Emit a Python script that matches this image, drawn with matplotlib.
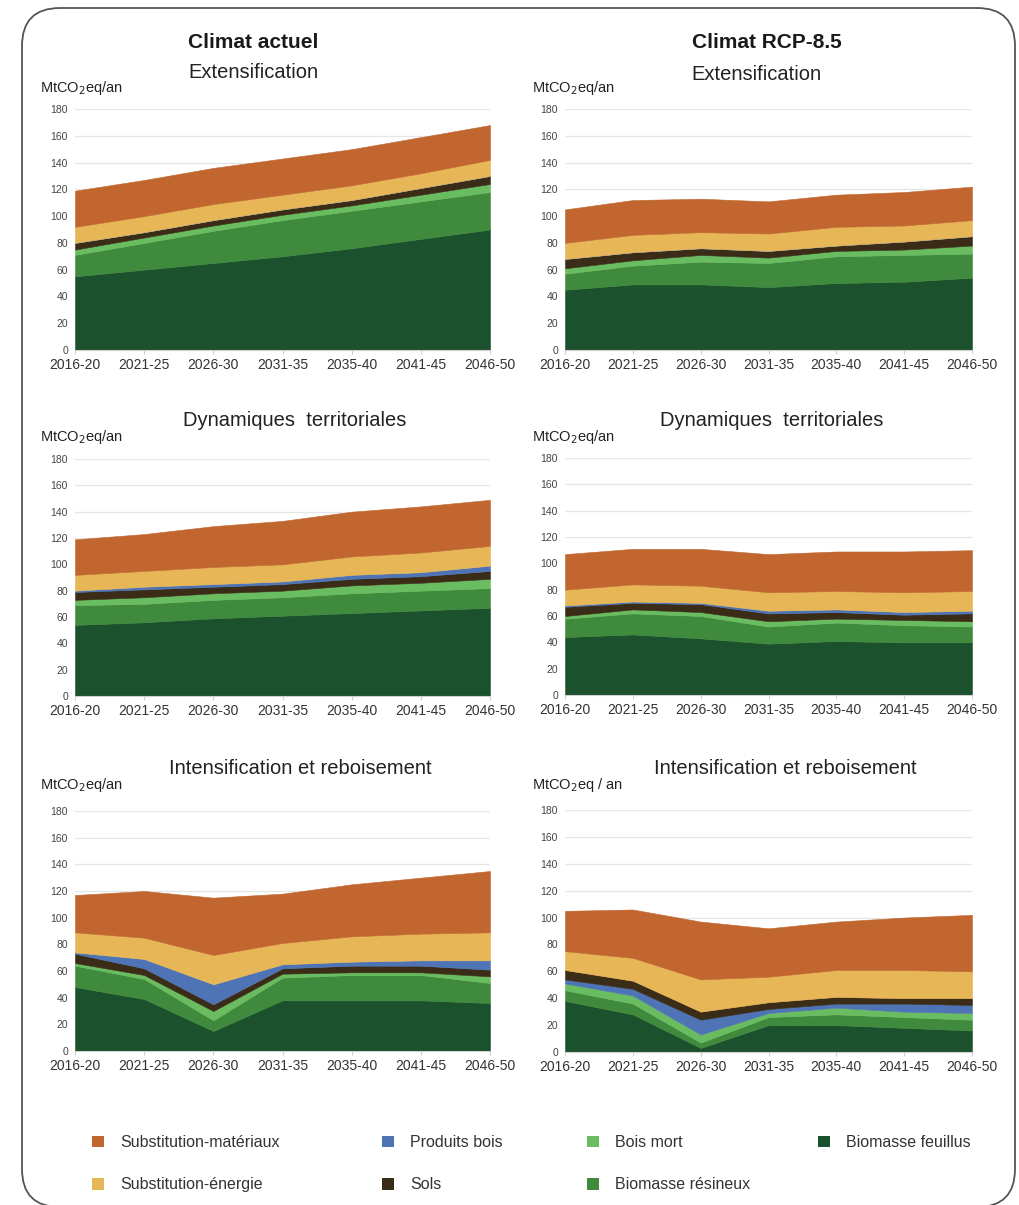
import matplotlib
matplotlib.use("Agg")
import matplotlib.pyplot as plt
from matplotlib.patches import FancyBboxPatch, Patch

plt.rcParams['font.family'] = ['Liberation Sans', 'DejaVu Sans']

# Periods on the x axis
periods = ["2016-20", "2021-25", "2026-30", "2031-35", "2035-40", "2041-45", "2046-50"]

# Carbon balance components, MtCO2eq/an, per scenario
actuel_extensification = {
    "Biomasse feuillus":       [55, 60, 65, 70, 76, 83, 90],
    "Biomasse résineux":       [16, 20, 24, 27, 28, 28, 28],
    "Bois mort":               [4, 4, 4, 4, 4, 5, 6],
    "Sols":                    [5, 4, 4, 4, 4, 5, 6],
    "Produits bois":           [0, 0, 0, 0, 0, 0, 0],
    "Substitution-énergie":    [12, 12, 12, 11, 11, 11, 12],
    "Substitution-matériaux":  [27, 27, 27, 27, 27, 27, 26],
}
rcp_extensification = {
    "Biomasse feuillus":       [45, 49, 49, 47, 50, 51, 54],
    "Biomasse résineux":       [12, 14, 17, 18, 20, 20, 18],
    "Bois mort":               [4, 4, 5, 4, 4, 4, 6],
    "Sols":                    [7, 6, 5, 5, 4, 6, 7],
    "Produits bois":           [0, 0, 0, 0, 0, 0, 0],
    "Substitution-énergie":    [12, 13, 12, 13, 14, 12, 12],
    "Substitution-matériaux":  [25, 26, 25, 24, 24, 25, 25],
}
actuel_dynamiques = {
    "Biomasse feuillus":       [54, 56, 59, 61, 63, 65, 67],
    "Biomasse résineux":       [15, 14, 14, 14, 15, 15, 15],
    "Bois mort":               [4, 5, 5, 5, 6, 6, 7],
    "Sols":                    [6, 6, 5, 5, 5, 5, 6],
    "Produits bois":           [1, 2, 2, 2, 3, 3, 4],
    "Substitution-énergie":    [12, 12, 13, 13, 14, 15, 15],
    "Substitution-matériaux":  [27, 28, 31, 33, 34, 35, 35],
}
rcp_dynamiques = {
    "Biomasse feuillus":       [44, 46, 43, 39, 41, 40, 40],
    "Biomasse résineux":       [14, 16, 17, 13, 14, 13, 12],
    "Bois mort":               [2, 3, 3, 4, 3, 4, 4],
    "Sols":                    [7, 5, 6, 6, 5, 4, 6],
    "Produits bois":           [1, 1, 1, 2, 2, 2, 2],
    "Substitution-énergie":    [12, 13, 13, 14, 14, 15, 15],
    "Substitution-matériaux":  [27, 27, 28, 29, 30, 31, 31],
}
actuel_intensification = {
    "Biomasse feuillus":       [48, 39, 15, 38, 38, 38, 36],
    "Biomasse résineux":       [16, 15, 8, 17, 19, 19, 15],
    "Bois mort":               [2, 3, 7, 3, 2, 2, 5],
    "Sols":                    [7, 5, 5, 4, 5, 5, 5],
    "Produits bois":           [1, 7, 15, 3, 3, 4, 7],
    "Substitution-énergie":    [15, 16, 22, 16, 19, 20, 21],
    "Substitution-matériaux":  [28, 35, 43, 37, 39, 42, 46],
}
rcp_intensification = {
    "Biomasse feuillus":       [38, 28, 3, 20, 20, 18, 16],
    "Biomasse résineux":       [8, 8, 4, 6, 8, 8, 8],
    "Bois mort":               [5, 6, 6, 3, 5, 4, 5],
    "Produits bois":           [3, 5, 11, 3, 3, 6, 6],
    "Sols":                    [7, 6, 6, 5, 5, 4, 5],
    "Substitution-énergie":    [14, 17, 24, 19, 20, 21, 20],
    "Substitution-matériaux":  [30, 36, 43, 36, 36, 39, 42],
}

colors = {
    "Substitution-matériaux": "#C1662F",
    "Substitution-énergie":   "#E7B657",
    "Produits bois":          "#4E74B6",
    "Sols":                   "#3A2C16",
    "Bois mort":              "#69BC5F",
    "Biomasse résineux":      "#3F8A3D",
    "Biomasse feuillus":      "#1C512D",
}

W, H = 1020, 1205
fig = plt.figure(figsize=(W / 100, H / 100), dpi=100)


def fx(px):
    return px / W


def fy(py):
    return 1 - py / H


# Rounded frame around the whole figure
frame = FancyBboxPatch((0.22, -0.02), 9.93, 11.99, boxstyle="round,pad=0,rounding_size=0.38",
                       transform=fig.dpi_scale_trans, fill=False, edgecolor="#555555",
                       linewidth=1.3, clip_on=False)
fig.add_artist(frame)

# Panel geometry in pixels: (left, right, y of 0, y of 180)
panels = [
    (actuel_extensification, 75, 490, 350, 109, "Extensification", 253, 72, "MtCO$_2$eq/an", 88),
    (rcp_extensification, 565, 972, 350, 109, "Extensification", 756, 74, "MtCO$_2$eq/an", 88),
    (actuel_dynamiques, 75, 490, 696, 459, "Dynamiques  territoriales", 295, 420, "MtCO$_2$eq/an", 437),
    (rcp_dynamiques, 565, 972, 695, 458, "Dynamiques  territoriales", 772, 420, "MtCO$_2$eq/an", 437),
    (actuel_intensification, 75, 490, 1051, 811, "Intensification et reboisement", 300, 769, "MtCO$_2$eq/an", 785),
    (rcp_intensification, 565, 972, 1052, 810, "Intensification et reboisement", 785, 768, "MtCO$_2$eq / an", 785),
]

x = list(range(len(periods)))
for data, left, right, y0, y180, subtitle, sx, sy, unit, uy in panels:
    ax = fig.add_axes([fx(left), fy(y0), fx(right - left), (y0 - y180) / H])
    names = list(data.keys())
    ax.stackplot(x, [data[n] for n in names], colors=[colors[n] for n in names],
                 edgecolor="face", linewidth=0.4, zorder=2)
    ax.set_xlim(0, len(periods) - 1)
    ax.set_ylim(0, 180)
    ax.set_yticks(range(0, 181, 20))
    ax.set_xticks(x)
    ax.set_xticklabels(periods)
    ax.grid(axis="y", color="#e6e6e6", linewidth=0.9, zorder=0)
    ax.set_axisbelow(True)
    for s in ("top", "right", "left"):
        ax.spines[s].set_visible(False)
    ax.spines["bottom"].set_color("#cfcfcf")
    ax.tick_params(axis="y", length=0, pad=5, labelsize=7.5, labelcolor="#444444")
    ax.tick_params(axis="x", length=3, color="#cfcfcf", pad=3, labelsize=10, labelcolor="#333333")
    unit_x = 40 if left < 300 else 532
    fig.text(fx(unit_x), fy(uy), unit, ha="left", va="center", fontsize=10.5, color="#222222")
    fig.text(fx(sx), fy(sy), subtitle, ha="center", va="center", fontsize=14.5, color="#222222")

fig.text(fx(253), fy(42), "Climat actuel", ha="center", va="center", fontsize=15,
         fontweight="bold", color="#1a1a1a")
fig.text(fx(767), fy(42), "Climat RCP-8.5", ha="center", va="center", fontsize=15,
         fontweight="bold", color="#1a1a1a")

# Legend, laid out in four columns
legend_cols = [
    (92, ["Substitution-matériaux", "Substitution-énergie"]),
    (382, ["Produits bois", "Sols"]),
    (587, ["Bois mort", "Biomasse résineux"]),
    (818, ["Biomasse feuillus"]),
]
for lx, names in legend_cols:
    handles = [Patch(facecolor=colors[n], edgecolor="none") for n in names]
    leg = fig.legend(handles, names, loc="upper left", bbox_to_anchor=(fx(lx), fy(1135)),
                     bbox_transform=fig.transFigure, frameon=False, fontsize=11.5,
                     handlelength=0.75, handleheight=0.75, handletextpad=1.0,
                     labelspacing=1.72, borderpad=0, borderaxespad=0)
    for t in leg.get_texts():
        t.set_color("#333333")

fig.savefig("out.png", dpi=100)
